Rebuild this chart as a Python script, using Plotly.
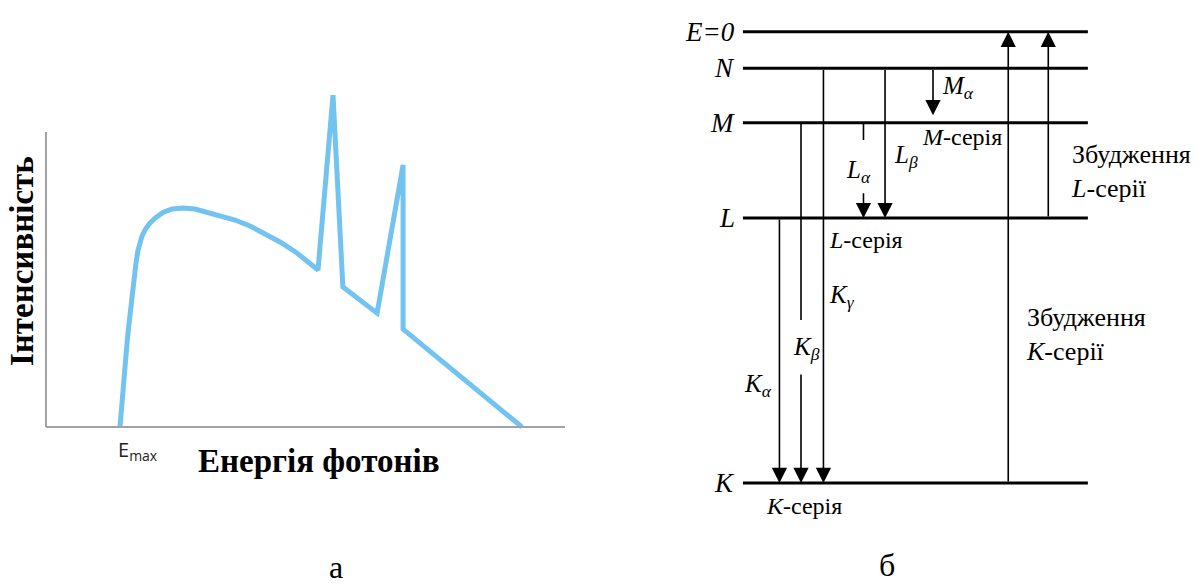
import plotly.graph_objects as go

# ---------------- panel "а": X-ray spectrum ----------------
energy = [14.26, 14.55, 14.89, 15.22, 15.55, 15.86, 16.18, 16.57, 16.96, 17.34, 17.73,
          18.11, 18.50, 19.08, 19.85, 21.00, 22.54, 24.28, 26.40, 28.71, 31.02, 33.53,
          36.42, 39.31, 41.81, 45.09, 48.36, 52.41, 55.3, 57.2, 63.8, 68.8, 68.8, 91.7]
intensity = [0, 7.46, 15.93, 22.03, 27.12, 32.88, 38.64, 44.75, 49.83, 55.6, 60.0,
             62.7, 64.7, 66.8, 68.8, 70.8, 72.7, 73.90, 74.24, 73.90, 72.88, 71.86,
             70.17, 68.14, 65.76, 62.71, 58.98, 53.22, 112.5, 47.5, 38.6, 88.8, 33.2, 0]
axis_max_x = 100
axis_max_y = 100

# ---------------- panel "б": energy levels ----------------
level_names = ["E=0", "N", "M", "L", "K"]
level_energy = [0, -8.1, -20.2, -41.3, -100]
level_x0, level_x1 = 14.3, 92.7

emis_names = ["Kα", "Kβ", "Kγ", "Lα", "Lβ", "Mα"]
emis_from = ["L", "M", "N", "M", "N", "N"]
emis_to = ["K", "K", "K", "L", "L", "M"]
emis_x = [22.6, 27.5, 32.6, 41.7, 46.6, 57.5]
emis_gap = {"Kβ": (-63.9, -75.6), "Lα": (-24.0, -35.45)}
emis_tip_offset = {"Mα": 1.7}

excit_from = ["K", "L"]
excit_to = ["E=0", "E=0"]
excit_x = [74.6, 83.7]

E = dict(zip(level_names, level_energy))

fig = go.Figure()

# spectrum axes (drawn as shapes)
fig.add_shape(type="line", xref="x", yref="y", x0=0, y0=0, x1=axis_max_x, y1=0,
              line=dict(color="#a3a3a3", width=2))
fig.add_shape(type="line", xref="x", yref="y", x0=0, y0=0, x1=0, y1=axis_max_y,
              line=dict(color="#a3a3a3", width=2))

fig.add_trace(go.Scatter(x=energy, y=intensity, mode="lines",
                         line=dict(color="#72c3ef", width=5),
                         xaxis="x", yaxis="y", hoverinfo="skip"))

for name in level_names:
    fig.add_trace(go.Scatter(x=[level_x0, level_x1], y=[E[name], E[name]], mode="lines",
                             line=dict(color="black", width=3),
                             xaxis="x2", yaxis="y2", hoverinfo="skip"))

serif = "Liberation Serif, serif"
annotations = []

def arrow(x, y_tail, y_tip):
    annotations.append(dict(x=x, y=y_tip, ax=x, ay=y_tail, xref="x2", yref="y2",
                            axref="x2", ayref="y2", text="", showarrow=True,
                            arrowhead=2, arrowsize=1.9, arrowwidth=1.6,
                            arrowcolor="black", standoff=0, startstandoff=0))

for name, f, t, x in zip(emis_names, emis_from, emis_to, emis_x):
    y0 = E[f]
    y1 = E[t] + emis_tip_offset.get(name, 0)
    if name in emis_gap:
        g0, g1 = emis_gap[name]
        fig.add_trace(go.Scatter(x=[x, x], y=[y0, g0], mode="lines",
                                 line=dict(color="black", width=1.6),
                                 xaxis="x2", yaxis="y2", hoverinfo="skip"))
        arrow(x, g1, y1)
    else:
        arrow(x, y0, y1)

for f, t, x in zip(excit_from, excit_to, excit_x):
    arrow(x, E[f], E[t])

for name in level_names:
    annotations.append(dict(x=12.95, y=E[name], xref="x2", yref="y2", text=f"<i>{name}</i>",
                            showarrow=False, xanchor="right", yanchor="middle",
                            font=dict(family=serif, size=27, color="black")))

def lab(x, y, text, size=24):
    annotations.append(dict(x=x, y=y, xref="x2", yref="y2", text=text, showarrow=False,
                            xanchor="left", yanchor="middle", align="left",
                            font=dict(family=serif, size=size, color="black")))

sub_size = 25
lab(59.1, -12.3, "<i>M<sub>α</sub></i>", sub_size)
lab(54.6, -23.3, "<i>M</i>-серія")
lab(48.2, -27.6, "<i>L<sub>β</sub></i>", sub_size)
lab(37.3, -30.9, "<i>L<sub>α</sub></i>", sub_size)
lab(33.4, -46.2, "<i>L</i>-серія")
lab(88.4, -30.9, "Збудження<br><i>L</i>-серії", 26)
lab(33.4, -58.6, "<i>K<sub>γ</sub></i>", sub_size)
lab(25.3, -70.1, "<i>K<sub>β</sub></i>", sub_size)
lab(14.1, -78.5, "<i>K<sub>α</sub></i>", sub_size)
lab(78.2, -67.2, "Збудження<br><i>K</i>-серії", 26)
lab(19.1, -105.1, "<i>K</i>-серія")

def paper_text(px, py, text, size, family=serif, color="black", angle=0, xanchor="center"):
    annotations.append(dict(x=px / 1203, y=(584 - py) / 584, xref="paper", yref="paper",
                            text=text, textangle=angle, showarrow=False,
                            xanchor=xanchor, yanchor="middle",
                            font=dict(family=family, size=size, color=color)))

paper_text(22, 261, "<b>Інтенсивність</b>", 33, angle=-90)
paper_text(318, 461, "<b>Енергія фотонів</b>", 33)
paper_text(116, 450, "E<sub>max</sub>", 20, family="Open Sans, sans-serif",
           color="#222222", xanchor="left")

paper_text(336, 567, "а", 32)
paper_text(887, 565, "б", 32)

hidden = dict(visible=False, showgrid=False, zeroline=False, fixedrange=True)
fig.update_layout(
    width=1203, height=584,
    margin=dict(l=0, r=0, t=0, b=0),
    paper_bgcolor="white", plot_bgcolor="white",
    showlegend=False,
    xaxis=dict(domain=[40 / 1203, 570 / 1203], range=[-6 / 5.19, 524 / 5.19], anchor="y", **hidden),
    yaxis=dict(domain=[(584 - 435) / 584, (584 - 85) / 584], range=[-8 / 2.95, 342 / 2.95], anchor="x", **hidden),
    xaxis2=dict(domain=[680 / 1203, 1120 / 1203], range=[0, 100], anchor="y2", **hidden),
    yaxis2=dict(domain=[(584 - 530) / 584, (584 - 15) / 584], range=[-110.41, 3.70], anchor="x2", **hidden),
    annotations=annotations,
)

fig.write_html("out.html")
